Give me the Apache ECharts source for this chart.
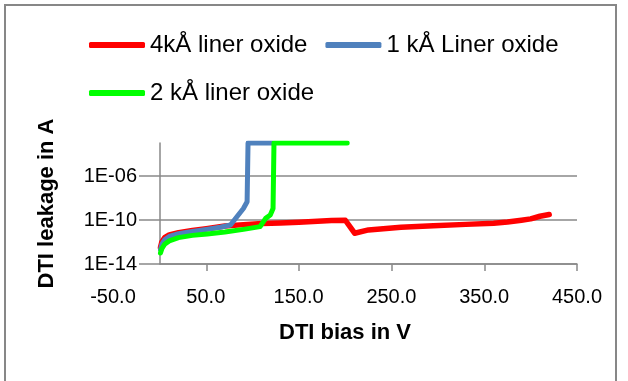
<!DOCTYPE html>
<html>
<head>
<meta charset="utf-8">
<script src="https://cdn.jsdelivr.net/npm/echarts@6/dist/echarts.min.js"></script>
<style>
  html, body { margin: 0; padding: 0; background: #fff; }
  #chart { width: 628px; height: 381px; }
</style>
</head>
<body>
<div id="chart"></div>
<script>
// DTI bias (V) and leakage (A)
const xTicks = [-50, 50, 150, 250, 350, 450];

const names = ['4kÅ liner oxide', '1 kÅ Liner oxide', '2 kÅ liner oxide'];

const bias4k = [0.5, 2, 5, 10, 20, 35, 50, 70, 90, 110, 130, 150, 170, 185, 200, 210, 225, 260, 295, 330, 360, 375, 390, 400, 410, 420];
const leak4k = [3.2e-13, 1e-12, 2.5e-12, 4.5e-12, 7e-12, 1.1e-11, 1.6e-11, 2.8e-11, 3.8e-11, 4.7e-11, 5.4e-11, 6.3e-11, 7.6e-11, 8.9e-11, 9.5e-11, 6.3e-12, 1.26e-11, 2.2e-11, 3e-11, 4e-11, 5e-11, 6.6e-11, 9.5e-11, 1.26e-10, 2.2e-10, 3.2e-10];

const bias1k = [0.5, 2, 5, 10, 20, 35, 50, 65, 76, 83, 90, 94, 95, 121];
const leak1k = [2e-13, 6.3e-13, 1.6e-12, 3.2e-12, 5.6e-12, 8.9e-12, 1.4e-11, 2.2e-11, 3.5e-11, 2e-10, 1.1e-9, 4.5e-9, 1e-3, 1e-3];

const bias2k = [0.5, 2, 5, 10, 20, 35, 51, 70, 90, 108, 114, 119, 122, 123, 202];
const leak2k = [1e-13, 2.5e-13, 6.3e-13, 1.26e-12, 2.5e-12, 4e-12, 5.4e-12, 8e-12, 1.4e-11, 2.5e-11, 1.4e-10, 2.8e-10, 1.1e-9, 1e-3, 1e-3];

const colors = ['#ff0000', '#4f81bd', '#00ff00'];

function pairs(xs, ys) {
  return xs.map((x, i) => [x, ys[i]]);
}

const gridLine = '#898989';
const chart = echarts.init(document.getElementById('chart'));

const legendText = { fontSize: 24, color: '#000', fontFamily: 'Liberation Sans' };

const option = {
  animation: false,
  textStyle: { fontFamily: 'Liberation Sans', color: '#000' },
  graphic: [{
    type: 'rect',
    shape: { x: 5, y: 5, width: 611, height: 400 },
    style: { fill: 'none', stroke: '#878787', lineWidth: 2 },
    silent: true
  }],
  legend: [
    {
      data: [names[0], names[1]],
      left: 89, top: 33, padding: 0,
      itemWidth: 56, itemHeight: 6, itemGap: 18,
      icon: 'roundRect',
      selectedMode: false,
      textStyle: legendText
    },
    {
      data: [names[2]],
      left: 89, top: 81, padding: 0,
      itemWidth: 56, itemHeight: 6,
      icon: 'roundRect',
      selectedMode: false,
      textStyle: legendText
    }
  ],
  grid: [
    // labels only, axis runs from -50
    { left: 113, right: 51, top: 143, bottom: 117 },
    // plot area, axis runs from 0
    { left: 160, right: 51, top: 143, bottom: 117 }
  ],
  xAxis: [
    {
      gridIndex: 0,
      type: 'value',
      min: -50, max: 450, interval: 100,
      axisLine: { show: false },
      axisTick: { show: false },
      splitLine: { show: false },
      axisLabel: {
        fontSize: 20, color: '#000', margin: 23,
        formatter: v => v.toFixed(1)
      },
      name: 'DTI bias in V',
      nameLocation: 'middle',
      nameGap: 58,
      nameTextStyle: { fontSize: 22, fontWeight: 'bold', color: '#000' }
    },
    {
      gridIndex: 1,
      type: 'value',
      min: 0, max: 450,
      axisLine: { show: true, onZero: false, lineStyle: { color: gridLine, width: 1.5 } },
      axisTick: { show: true, length: 7, customValues: xTicks.slice(1), lineStyle: { color: gridLine, width: 1.5 } },
      axisLabel: { show: false },
      splitLine: { show: false }
    }
  ],
  yAxis: [
    { gridIndex: 0, type: 'value', show: false },
    {
      gridIndex: 1,
      type: 'log',
      logBase: 10,
      min: 1e-14, max: 1e-3, interval: 4,
      axisLine: { show: true, onZero: false, lineStyle: { color: gridLine, width: 1.5 } },
      axisTick: { show: true, length: 21, lineStyle: { color: gridLine, width: 1.5 } },
      splitLine: { show: true, showMaxLine: false, lineStyle: { color: gridLine, width: 1.5 } },
      axisLabel: {
        fontSize: 20, color: '#000', margin: 23, showMaxLabel: false,
        formatter: function (v) {
          const e = Math.round(Math.log10(v));
          return '1E' + (e < 0 ? '-' : '+') + String(Math.abs(e)).padStart(2, '0');
        }
      },
      name: 'DTI leakage in A',
      nameLocation: 'middle',
      nameGap: 102,
      nameTextStyle: { fontSize: 22, fontWeight: 'bold', color: '#000' }
    }
  ],
  series: [
    { name: names[0], data: pairs(bias4k, leak4k), color: colors[0], width: 5.5 },
    { name: names[1], data: pairs(bias1k, leak1k), color: colors[1], width: 5 },
    { name: names[2], data: pairs(bias2k, leak2k), color: colors[2], width: 5 }
  ].map(s => ({
    type: 'line',
    name: s.name,
    data: s.data,
    xAxisIndex: 1,
    yAxisIndex: 1,
    color: s.color,
    showSymbol: false,
    symbol: 'none',
    lineStyle: { width: s.width, color: s.color, cap: 'round', join: 'round' },
    itemStyle: { color: s.color }
  }))
};

chart.setOption(option);
</script>
</body>
</html>
